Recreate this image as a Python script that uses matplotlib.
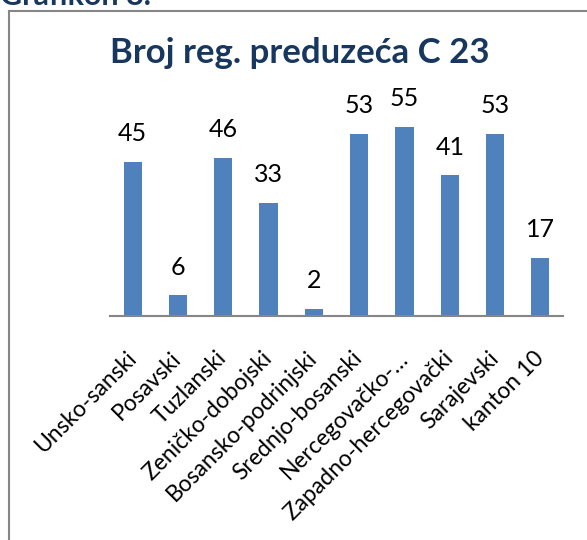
import matplotlib
matplotlib.use("Agg")
import matplotlib.pyplot as plt
from matplotlib.lines import Line2D

categories = ["Unsko-sanski", "Posavski", "Tuzlanski", "Zeničko-dobojski",
              "Bosansko-podrinjski", "Srednjo-bosanski", "Nercegovačko-…",
              "Zapadno-hercegovački", "Sarajevski", "kanton 10"]
values = [45, 6, 46, 33, 2, 53, 55, 41, 53, 17]

title = "Broj reg. preduzeća C 23"
caption = "Grafikon 8."

plt.rcParams['font.family'] = ['Lato', 'DejaVu Sans']

W, H = 587, 540
fig = plt.figure(figsize=(W / 100, H / 100), dpi=100)
fig.patch.set_facecolor("white")

ax = fig.add_axes([110 / W, 1 - 316 / H, (563 - 110) / W, (316 - 110) / H])
x = list(range(len(categories)))
ax.bar(x, values, width=0.4, color="#4F81BD", zorder=2)
ax.set_xlim(-0.5, len(categories) - 0.5)
ax.set_ylim(0, 60)
for s in ["left", "right", "top"]:
    ax.spines[s].set_visible(False)
ax.spines["bottom"].set_color("#868686")
ax.spines["bottom"].set_linewidth(1.5)
ax.set_yticks([])
ax.set_xticks(x)
ax.set_xticklabels(categories, rotation=45, ha="right", va="center",
                   rotation_mode="anchor", fontsize=16.5)
ax.tick_params(axis="x", length=0, pad=28)
for xi, v in zip(x, values):
    ax.annotate(str(v), (xi, v), xytext=(0, 12), textcoords="offset points",
                ha="center", va="bottom", fontsize=18)

fig.text(0.5 * (113 + 487) / W, 1 - 53 / H, title, ha="center", va="center",
         fontsize=25, fontweight="bold", color="#17375E")
fig.text(0 / W, 1 - 5 / H, caption, ha="left", va="baseline", fontsize=22,
         fontweight="bold", color="#17375E")

fig.add_artist(Line2D([9 / W, 9 / W], [0, 1 - 11 / H], transform=fig.transFigure,
                      color="#868686", lw=1.5))
fig.add_artist(Line2D([9 / W, 1], [1 - 11 / H, 1 - 11 / H], transform=fig.transFigure,
                      color="#868686", lw=1.5))

fig.savefig("out.png", dpi=100)
